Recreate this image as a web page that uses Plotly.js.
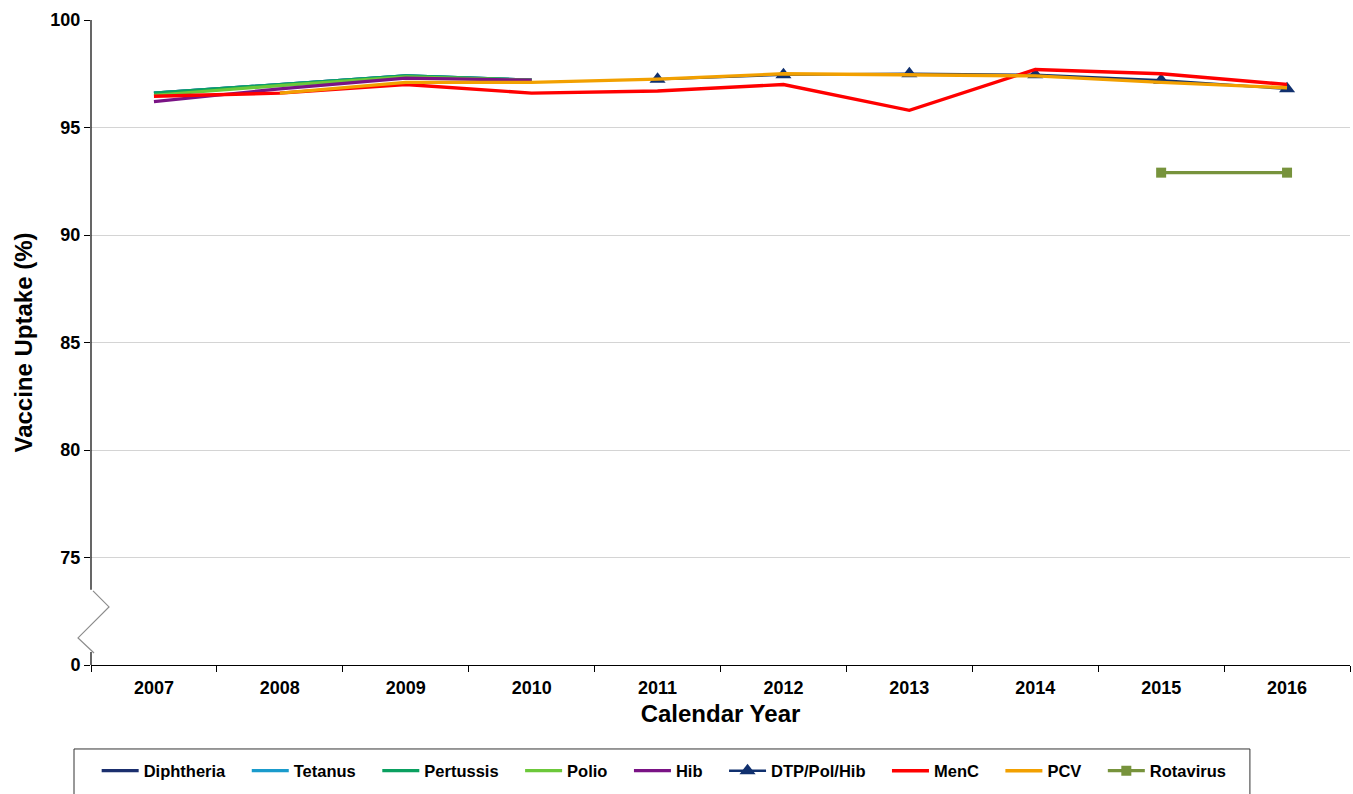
<!DOCTYPE html>
<html>
<head>
<meta charset="utf-8">
<script src="https://cdn.plot.ly/plotly-3.0.1.min.js"></script>
<style>
  html, body { margin: 0; padding: 0; overflow: hidden; background: #fff; }
  #chart { width: 1353px; height: 794px; }
</style>
</head>
<body>
<div id="chart"></div>
<script>
// Calendar years on the x axis
const years = ['2007', '2008', '2009', '2010', '2011', '2012', '2013', '2014', '2015', '2016'];

// Uptake (%) per vaccine; null where the vaccine was not reported
const diphtheria = [96.6, 97.0, 97.4, 97.2, null, null, null, null, null, null];
const tetanus    = [96.6, 97.0, 97.4, 97.2, null, null, null, null, null, null];
const pertussis  = [96.6, 97.0, 97.4, 97.2, null, null, null, null, null, null];
const polio      = [96.5, 96.95, 97.35, 97.2, null, null, null, null, null, null];
const hib        = [96.2, 96.8, 97.3, 97.2, null, null, null, null, null, null];
const dtpPolHib  = [null, null, null, null, 97.25, 97.45, 97.5, 97.45, 97.2, 96.8];
const menC       = [96.45, 96.6, 97.0, 96.6, 96.7, 97.0, 95.8, 97.7, 97.5, 97.0];
const pcv        = [null, 96.6, 97.1, 97.1, 97.25, 97.5, 97.45, 97.4, 97.1, 96.85];
const rotavirus  = [null, null, null, null, null, null, null, null, 92.9, 92.9];

// The y axis is broken below 75: the bottom tick position stands for 0
const yTickVals = [70, 75, 80, 85, 90, 95, 100];
const yTickText = ['0', '75', '80', '85', '90', '95', '100'];

const FONT = 'Liberation Sans, Arial, sans-serif';
// extra room after each legend label so entries are spread along the box
const PAD = '\u2002\u2002';

function lineTrace(name, y, color, width, extra) {
  return Object.assign({
    type: 'scatter', mode: 'lines', name: name, x: years, y: y,
    line: { color: color, width: width },
    connectgaps: false, hoverinfo: 'x+y+name'
  }, extra || {});
}

const traces = [
  lineTrace('Diphtheria' + PAD, diphtheria, '#1b2f6e', 3.2),
  lineTrace('Tetanus' + PAD, tetanus, '#1a9bcc', 3.2),
  lineTrace('Pertussis' + PAD, pertussis, '#0aa060', 3.2),
  lineTrace('Polio' + PAD, polio, '#6cc83a', 3.2),
  lineTrace('Hib' + PAD, hib, '#7a1385', 3.2),
  lineTrace('DTP/Pol/Hib' + PAD, dtpPolHib, '#10306e', 2.5, {
    mode: 'lines+markers',
    marker: { symbol: 'triangle-up', size: 14, color: '#10306e' }
  }),
  lineTrace('MenC' + PAD, menC, '#ff0000', 3.4),
  lineTrace('PCV' + PAD, pcv, '#f2a000', 3.4),
  lineTrace('Rotavirus', rotavirus, '#77933c', 3.2, {
    mode: 'lines+markers',
    marker: { symbol: 'square', size: 10, color: '#77933c' }
  })
];

// Broken y-axis line with a zig-zag marker in the gap, plus the legend frame
const breakTop = 73.5, breakBottom = 70.6;
const shapes = [
  { type: 'line', xref: 'paper', yref: 'y', x0: 0, x1: 0, y0: breakTop, y1: 100,
    line: { color: '#000', width: 1.2 } },
  { type: 'line', xref: 'paper', yref: 'y', x0: 0, x1: 0, y0: 70, y1: breakBottom,
    line: { color: '#000', width: 1.2 } },
  { type: 'path', xref: 'paper', yref: 'y',
    path: 'M 0.0016,73.45 L 0.0143,72.7 L -0.0103,71.26 L 0.0024,70.56',
    line: { color: '#8c8c8c', width: 1.2 } },
  { type: 'rect', xref: 'paper', yref: 'paper',
    x0: -0.0135, x1: 0.9205, y0: -0.1302, y1: -0.215,
    line: { color: '#333', width: 1 }, fillcolor: 'rgba(0,0,0,0)', layer: 'below' }
];

const layout = {
  width: 1353, height: 794,
  margin: { l: 91, r: 3, t: 20, b: 129 },
  paper_bgcolor: '#fff', plot_bgcolor: '#fff',
  font: { family: FONT, color: '#000' },
  showlegend: true,
  xaxis: {
    type: 'category',
    range: [-0.5, 9.5],
    showline: true, linecolor: '#000', linewidth: 1.2,
    ticks: 'outside', tickson: 'boundaries', ticklen: 6, tickcolor: '#000',
    ticklabelstandoff: 6,
    showgrid: false, zeroline: false,
    tickfont: { family: FONT, size: 18, weight: 'bold', color: '#000' },
    title: { text: 'Calendar Year', standoff: 8,
             font: { family: FONT, size: 24, weight: 'bold', color: '#000' } }
  },
  yaxis: {
    range: [70, 100],
    tickmode: 'array', tickvals: yTickVals, ticktext: yTickText,
    showline: false, ticks: 'outside', ticklen: 6, tickcolor: '#000',
    showgrid: true, gridcolor: '#d4d4d4', gridwidth: 1, zeroline: false,
    tickfont: { family: FONT, size: 18, weight: 'bold', color: '#000' },
    title: { text: 'Vaccine Uptake (%)', standoff: 10,
             font: { family: FONT, size: 24, weight: 'bold', color: '#000' } }
  },
  shapes: shapes,
  legend: {
    orientation: 'h',
    x: 0.0045, xanchor: 'left',
    y: -0.1372, yanchor: 'top',
    borderwidth: 0,
    bgcolor: 'rgba(0,0,0,0)',
    font: { family: FONT, size: 16.5, weight: 'bold', color: '#000' },
    itemwidth: 37
  }
};

Plotly.newPlot('chart', traces, layout, { displayModeBar: false, staticPlot: true });
</script>
</body>
</html>
